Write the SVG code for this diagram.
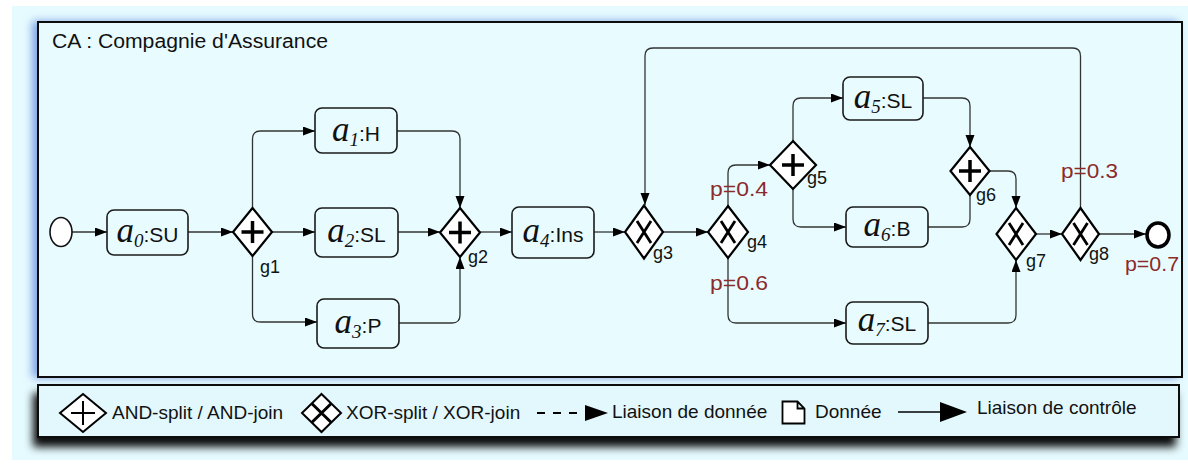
<svg xmlns="http://www.w3.org/2000/svg" width="1188" height="465" viewBox="0 0 1188 465">
  <defs>
    <style>
      .box { fill: #e8fcff; stroke: #1a1a1a; stroke-width: 1.6; }
      .gw { fill: #ffffff; stroke: #000; stroke-width: 2.2; stroke-linejoin: miter; }
      .mk { stroke: #000; stroke-width: 3.5; fill: none; }
      .xk { stroke: #000; stroke-width: 2.8; fill: none; }
      .edge { fill: none; stroke: #333; stroke-width: 1.3; marker-end: url(#ah); }
      .edgen { fill: none; stroke: #333; stroke-width: 1.3; }
      .sf { font-family: "Liberation Sans", Arial, sans-serif; fill: #111; }
      .ai { font-family: "Liberation Serif", "Times New Roman", serif; font-style: italic; fill: #111; }
      .gl { font-family: "Liberation Sans", Arial, sans-serif; fill: #111; font-size: 18px; }
      .pr { font-family: "Liberation Sans", Arial, sans-serif; fill: #8b2b2b; font-size: 20px; }
      .lg { font-family: "Liberation Sans", Arial, sans-serif; fill: #111; font-size: 19px; }
    </style>
    <marker id="ah" markerUnits="userSpaceOnUse" markerWidth="13" markerHeight="10" refX="12" refY="4.5" orient="auto">
      <path d="M0,0 L12,4.5 L0,9 Z" fill="#000"/>
    </marker>
    <filter id="shMain" x="-3%" y="-8%" width="106%" height="116%">
      <feGaussianBlur in="SourceAlpha" stdDeviation="4" result="b"/>
      <feOffset in="b" dx="-5" dy="0" result="o"/>
      <feFlood flood-color="#6f93e0" flood-opacity="0.85"/>
      <feComposite in2="o" operator="in" result="s"/>
      <feMerge><feMergeNode in="s"/><feMergeNode in="SourceGraphic"/></feMerge>
    </filter>
    <filter id="shLeg" x="-3%" y="-30%" width="106%" height="180%">
      <feGaussianBlur in="SourceAlpha" stdDeviation="4.5" result="b"/>
      <feOffset in="b" dx="-4" dy="9" result="o"/>
      <feFlood flood-color="#000" flood-opacity="0.95"/>
      <feComposite in2="o" operator="in" result="s"/>
      <feMerge><feMergeNode in="s"/><feMergeNode in="SourceGraphic"/></feMerge>
    </filter>
  </defs>

  <rect x="0" y="0" width="1188" height="465" fill="#ffffff"/>
  <rect x="12" y="6" width="1176" height="454" fill="#e6fbff"/>

  <!-- main pool -->
  <g id="pool">
    <rect x="38" y="22" width="1144" height="355" fill="#e8fcff" stroke="#111" stroke-width="2" filter="url(#shMain)"/>
    <text class="sf" x="52" y="48" font-size="20" textLength="276" lengthAdjust="spacingAndGlyphs">CA : Compagnie d'Assurance</text>
  </g>

  <!-- connectors -->
  <g id="connectors">
    <path class="edge" d="M72,232 H107"/>
    <path class="edge" d="M188,232 H233"/>
    <path class="edge" d="M252.5,208 V139 Q252.5,131 260.5,131 H315"/>
    <path class="edge" d="M272,232 H315"/>
    <path class="edge" d="M252.5,256 V314 Q252.5,322 260.5,322 H317"/>
    <path class="edge" d="M397,131 H452 Q460,131 460,139 V208"/>
    <path class="edge" d="M398,232 H440"/>
    <path class="edge" d="M399,323 H452 Q460,323 460,315 V257"/>
    <path class="edge" d="M480,232 H512"/>
    <path class="edge" d="M594,232 H625"/>
    <path class="edge" d="M663,232 H708"/>
    <path class="edge" d="M728,206 V173 Q728,165 736,165 H770"/>
    <path class="edge" d="M728,258 V315 Q728,323 736,323 H846"/>
    <path class="edge" d="M793,141 V106 Q793,98 801,98 H843"/>
    <path class="edge" d="M793,189 V219 Q793,227 801,227 H846"/>
    <path class="edge" d="M923,98 H962 Q970,98 970,106 V147"/>
    <path class="edgen" d="M928,227 H962 Q970,227 970,219 V195"/>
    <path class="edge" d="M989,171 H1008 Q1016,171 1016,179 V208"/>
    <path class="edge" d="M928,323 H1008 Q1016,323 1016,315 V260"/>
    <path class="edge" d="M1036,234 H1062"/>
    <path class="edge" d="M1099,234 H1146"/>
    <path class="edge" d="M1080.5,208 V56 Q1080.5,48 1072.5,48 H653 Q645,48 645,56 V205"/>
  </g>

  <!-- events -->
  <g id="start"><ellipse cx="61" cy="232" rx="11" ry="14.5" fill="#fff" stroke="#111" stroke-width="1.6"/></g>
  <g id="end"><ellipse cx="1158" cy="235" rx="11" ry="12" fill="#fff" stroke="#000" stroke-width="3.5"/></g>

  <!-- activities -->
  <g id="a0">
    <rect class="box" x="107" y="210" width="81" height="45" rx="7"/>
    <text x="147.5" y="242" text-anchor="middle"><tspan class="ai" font-size="35">a</tspan><tspan class="ai" font-size="19" dy="5">0</tspan><tspan class="sf" font-size="21" dy="-5">:SU</tspan></text>
  </g>
  <g id="a1">
    <rect class="box" x="315" y="108" width="82" height="45" rx="7"/>
    <text x="356" y="141" text-anchor="middle"><tspan class="ai" font-size="35">a</tspan><tspan class="ai" font-size="19" dy="5">1</tspan><tspan class="sf" font-size="21" dy="-5">:H</tspan></text>
  </g>
  <g id="a2">
    <rect class="box" x="315" y="208" width="83" height="49" rx="7"/>
    <text x="356.5" y="242" text-anchor="middle"><tspan class="ai" font-size="35">a</tspan><tspan class="ai" font-size="19" dy="5">2</tspan><tspan class="sf" font-size="21" dy="-5">:SL</tspan></text>
  </g>
  <g id="a3">
    <rect class="box" x="317" y="299" width="82" height="49" rx="7"/>
    <text x="358" y="333" text-anchor="middle"><tspan class="ai" font-size="35">a</tspan><tspan class="ai" font-size="19" dy="5">3</tspan><tspan class="sf" font-size="21" dy="-5">:P</tspan></text>
  </g>
  <g id="a4">
    <rect class="box" x="512" y="207" width="82" height="51" rx="7"/>
    <text x="553" y="242" text-anchor="middle"><tspan class="ai" font-size="35">a</tspan><tspan class="ai" font-size="19" dy="5">4</tspan><tspan class="sf" font-size="21" dy="-5">:Ins</tspan></text>
  </g>
  <g id="a5">
    <rect class="box" x="843" y="77" width="80" height="43" rx="7"/>
    <text x="883" y="108" text-anchor="middle"><tspan class="ai" font-size="35">a</tspan><tspan class="ai" font-size="19" dy="5">5</tspan><tspan class="sf" font-size="21" dy="-5">:SL</tspan></text>
  </g>
  <g id="a6">
    <rect class="box" x="846" y="207" width="82" height="40" rx="7"/>
    <text x="887" y="236" text-anchor="middle"><tspan class="ai" font-size="35">a</tspan><tspan class="ai" font-size="19" dy="5">6</tspan><tspan class="sf" font-size="21" dy="-5">:B</tspan></text>
  </g>
  <g id="a7">
    <rect class="box" x="846" y="302" width="82" height="42" rx="7"/>
    <text x="887" y="331" text-anchor="middle"><tspan class="ai" font-size="35">a</tspan><tspan class="ai" font-size="19" dy="5">7</tspan><tspan class="sf" font-size="21" dy="-5">:SL</tspan></text>
  </g>

  <!-- gateways -->
  <g id="g1">
    <polygon class="gw" points="252.5,208 272,232 252.5,256 233,232"/>
    <path class="mk" d="M241.5,232 H263.5 M252.5,221 V243"/>
    <text class="gl" x="260" y="273" font-size="16">g1</text>
  </g>
  <g id="g2">
    <polygon class="gw" points="460,208 480,232.5 460,257 440,232.5"/>
    <path class="mk" d="M449,232.5 H471 M460,221.5 V243.5"/>
    <text class="gl" x="468" y="263" font-size="17">g2</text>
  </g>
  <g id="g3">
    <polygon class="gw" points="644,205.5 663,232 644,258.5 625,232"/>
    <path class="xk" d="M637,221 L651,243 M651,221 L637,243"/>
    <text class="gl" x="653" y="259">g3</text>
  </g>
  <g id="g4">
    <polygon class="gw" points="728,206 748,232 728,258 708,232"/>
    <path class="xk" d="M721,221 L735,243 M735,221 L721,243"/>
    <text class="gl" x="747" y="248" font-size="19">g4</text>
  </g>
  <g id="g5">
    <polygon class="gw" points="793,141 816,165 793,189 770,165"/>
    <path class="mk" d="M782,165 H804 M793,154 V176"/>
    <text class="gl" x="807" y="184" font-size="16">g5</text>
  </g>
  <g id="g6">
    <polygon class="gw" points="970,147 989.5,171 970,195 950.5,171"/>
    <path class="mk" d="M959,171 H981 M970,160 V182"/>
    <text class="gl" x="976" y="201">g6</text>
  </g>
  <g id="g7">
    <polygon class="gw" points="1016,208 1036,234 1016,260 996.5,234"/>
    <path class="xk" d="M1009,223 L1023,245 M1023,223 L1009,245"/>
    <text class="gl" x="1026" y="267" font-size="19">g7</text>
  </g>
  <g id="g8">
    <polygon class="gw" points="1080.5,208 1099,234 1080.5,260 1062,234"/>
    <path class="xk" d="M1073.5,223 L1087.5,245 M1087.5,223 L1073.5,245"/>
    <text class="gl" x="1089" y="260">g8</text>
  </g>

  <!-- probabilities -->
  <g id="probs">
    <text class="pr" x="710" y="196" textLength="58" lengthAdjust="spacingAndGlyphs">p=0.4</text>
    <text class="pr" x="710" y="290" textLength="58" lengthAdjust="spacingAndGlyphs">p=0.6</text>
    <text class="pr" x="1061" y="178" textLength="57" lengthAdjust="spacingAndGlyphs">p=0.3</text>
    <text class="pr" x="1125" y="271" textLength="54" lengthAdjust="spacingAndGlyphs">p=0.7</text>
  </g>

  <!-- legend -->
  <g id="legend">
    <rect x="38" y="385" width="1141" height="52" fill="#e3f8fd" stroke="#111" stroke-width="2" filter="url(#shLeg)"/>
    <polygon points="83,394 106,413 83,432 60,413" fill="#fff" stroke="#000" stroke-width="2"/>
    <path d="M71,413 H95 M83,401 V425" stroke="#000" stroke-width="2" fill="none"/>
    <text class="lg" x="112" y="419">AND-split / AND-join</text>
    <polygon points="321.5,394 341,413 321.5,432 302,413" fill="#fff" stroke="#000" stroke-width="2"/>
    <path d="M311.75,403.5 L331.25,422.5 M331.25,403.5 L311.75,422.5" stroke="#000" stroke-width="3" fill="none"/>
    <text class="lg" x="346" y="419">XOR-split / XOR-join</text>
    <line x1="537" y1="413" x2="586" y2="413" stroke="#000" stroke-width="2" stroke-dasharray="8,8"/>
    <path d="M585,405 L608,413 L585,421 Z" fill="#000"/>
    <text class="lg" x="612" y="418">Liaison de donnée</text>
    <path d="M782.5,401.5 H797.5 L804.5,408.5 V423.5 H782.5 Z M797.5,401.5 V408.5 H804.5" fill="#fff" stroke="#000" stroke-width="1.8" stroke-linejoin="miter"/>
    <text class="lg" x="815" y="418">Donnée</text>
    <line x1="898" y1="412" x2="942" y2="412" stroke="#000" stroke-width="1.5"/>
    <path d="M940,402 L967,412 L940,422 Z" fill="#000"/>
    <text class="lg" x="977" y="414">Liaison de contrôle</text>
  </g>
</svg>
